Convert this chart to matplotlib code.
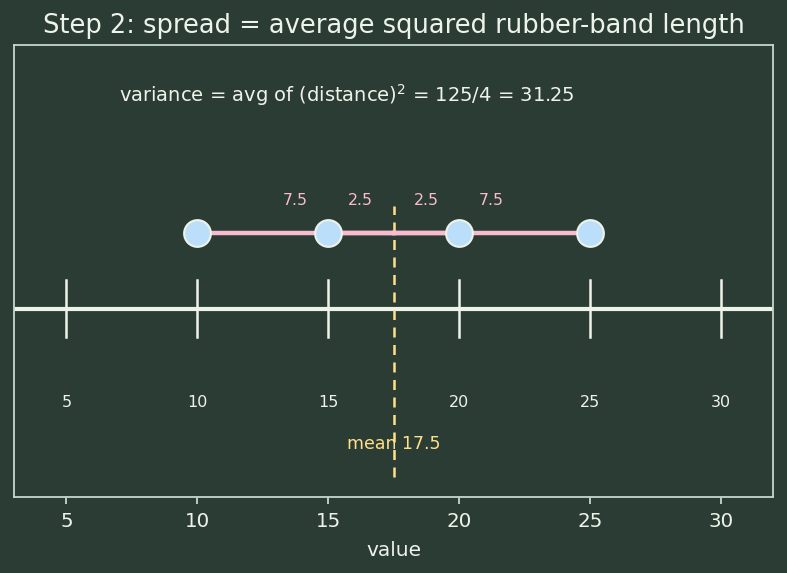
import matplotlib
matplotlib.use("Agg")
import matplotlib.pyplot as plt

values = [10, 15, 20, 25]
tick_values = [5, 10, 15, 20, 25, 30]
mean_val = 17.5
title = "Step 2: spread = average squared rubber-band length"
variance_text = "variance = avg of (distance)$^2$ = 125/4 = 31.25"

BG = "#2b3c34"
FG = "#eef3ea"
SPINE = "#c5d6ca"
PINK = "#f8bbd0"
BLUE = "#bbdefb"
YELLOW = "#ffe08a"

fig = plt.figure(figsize=(7.87, 5.73), dpi=100, facecolor=BG)
ax = fig.add_axes([14/787, 1-497/573, (773-14)/787, (497-45)/573])
ax.set_facecolor(BG)
ax.set_xlim(3, 32)
ax.set_ylim(-1.25, 1.75)

# number line
ax.axhline(0, color=FG, lw=3, zorder=2)
for t in tick_values:
    ax.plot([t, t], [-0.19, 0.19], color=FG, lw=1.8, zorder=2)
    ax.text(t, -0.62, str(t), color=FG, ha="center", va="center", fontsize=11.5)

# mean line
ax.plot([mean_val, mean_val], [-1.12, 0.68], color=YELLOW, lw=1.8, ls=(0, (4, 3)), zorder=3)
ax.text(mean_val, -0.9, f"mean {mean_val}", color=YELLOW, ha="center", va="center", fontsize=12.5)

# rubber bands
yb = 0.5
for v in values:
    ax.plot([v, mean_val], [yb, yb], color=PINK, lw=3.2, zorder=4)
    d = abs(v - mean_val)
    ax.text((v + mean_val) / 2, 0.72, f"{d}", color=PINK, ha="center", va="center", fontsize=11.3)
ax.scatter(values, [yb] * len(values), s=370, color=BLUE, edgecolor=FG, linewidth=1.5, zorder=5)

ax.text(7, 1.42, variance_text, color=FG, ha="left", va="center", fontsize=14)

ax.set_yticks([])
ax.set_xticks(tick_values)
ax.tick_params(axis="x", colors=SPINE, labelcolor=FG, labelsize=14.3, length=5, width=1.3, pad=6)
for s in ax.spines.values():
    s.set_color(SPINE)
    s.set_linewidth(1.3)
ax.set_xlabel("value", color=FG, fontsize=14.5, labelpad=7)
ax.set_title(title, color=FG, fontsize=18.5, pad=8.5)

fig.savefig("out.png", dpi=100, facecolor=BG)
